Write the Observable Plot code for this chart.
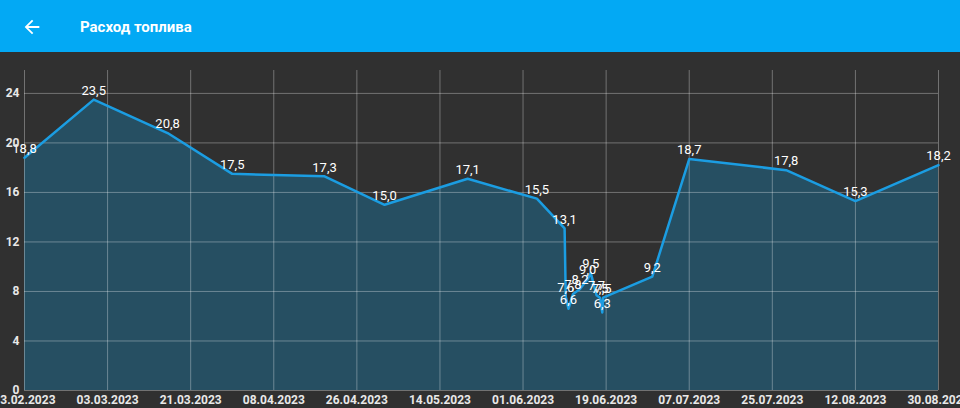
<!DOCTYPE html>
<html>
<head>
<meta charset="utf-8">
<script src="https://cdn.jsdelivr.net/npm/d3@7"></script>
<script src="https://cdn.jsdelivr.net/npm/@observablehq/plot@0.6"></script>
<style>
  html, body { margin: 0; padding: 0; background: #303030; width: 960px; height: 408px; overflow: hidden; font-family: Roboto, "Noto Sans", sans-serif; }
  #header { height: 52px; background: #03A9F4; position: relative; color: #fff; }
  #header .title { position: absolute; left: 80px; top: 18px; font-size: 15px; font-weight: 700; line-height: 18px; }
  #header svg.back { position: absolute; left: 21px; top: 16px; }
  #chart svg { display: block; }
</style>
</head>
<body>
<div id="header">
  <svg class="back" width="22" height="22" viewBox="0 0 24 24"><path fill="#fff" d="M20 11H7.83l5.59-5.59L12 4l-8 8 8 8 1.41-1.41L7.83 13H20v-2z"/></svg>
  <div class="title">Расход топлива</div>
</div>
<div id="chart"></div>
<script>
const dates = [
  "2023-02-13T00:00", "2023-02-28T00:00", "2023-03-16T00:00", "2023-03-30T00:00",
  "2023-04-19T00:00", "2023-05-02T00:00", "2023-05-20T00:00", "2023-06-04T00:00",
  "2023-06-10T00:00", "2023-06-10T06:00", "2023-06-10T20:00", "2023-06-11T20:00",
  "2023-06-13T08:00", "2023-06-15T00:00", "2023-06-15T16:00", "2023-06-16T22:00",
  "2023-06-17T16:00", "2023-06-18T04:00", "2023-06-18T08:00", "2023-06-29T00:00",
  "2023-07-07T00:00", "2023-07-28T00:00", "2023-08-12T00:00", "2023-08-30T00:00"
];
const consumption = [
  18.8, 23.5, 20.8, 17.5,
  17.3, 15.0, 17.1, 15.5,
  13.1, 7.6, 6.6, 7.8,
  8.2, 9.0, 9.5, 7.7,
  7.5, 6.3, 7.5, 9.2,
  18.7, 17.8, 15.3, 18.2
];
const xTicks = [
  "2023-02-13", "2023-03-03", "2023-03-21", "2023-04-08", "2023-04-26", "2023-05-14",
  "2023-06-01", "2023-06-19", "2023-07-07", "2023-07-25", "2023-08-12", "2023-08-30"
];
const yTicks = [0, 4, 8, 12, 16, 20, 24];

const parse = s => new Date(s + (s.length === 10 ? "T00:00:00Z" : ":00Z"));
const data = dates.map((d, i) => ({date: parse(d), value: consumption[i]}));
const tickDates = xTicks.map(parse);
const fmtNum = v => v.toFixed(1).replace(".", ",");

const chart = Plot.plot({
  width: 960,
  height: 356,
  marginLeft: 24,
  marginRight: 22,
  marginTop: 18,
  marginBottom: 18,
  style: {background: "#303030", color: "#e8e8e8", fontFamily: "Roboto, sans-serif"},
  x: {type: "utc", domain: [tickDates[0], tickDates[tickDates.length - 1]]},
  y: {domain: [0, 25.85]},
  marks: [
    Plot.areaY(data, {x: "date", y: "value", fill: "#264f62", curve: "linear"}),
    Plot.gridX(tickDates, {stroke: "#ffffff", strokeOpacity: 0.32, strokeWidth: 1}),
    Plot.gridY(yTicks, {stroke: "#ffffff", strokeOpacity: 0.32, strokeWidth: 1}),
    Plot.lineY(data, {x: "date", y: "value", stroke: "#1b9de2", strokeWidth: 2.5, curve: "linear"}),
    Plot.text(data, {x: "date", y: "value", text: d => fmtNum(d.value), dy: -9, fill: "#ffffff", fontSize: 13}),
    Plot.axisX(tickDates, {tickSize: 0, tickPadding: 5, tickFormat: d3.utcFormat("%d.%m.%Y"), fontSize: 12, fontWeight: "bold", fill: "#e8e8e8", label: null}),
    Plot.axisY(yTicks, {tickSize: 0, tickPadding: 5, fontSize: 12, fontWeight: "bold", fill: "#e8e8e8", label: null})
  ]
});
document.getElementById("chart").appendChild(chart);
</script>
</body>
</html>
